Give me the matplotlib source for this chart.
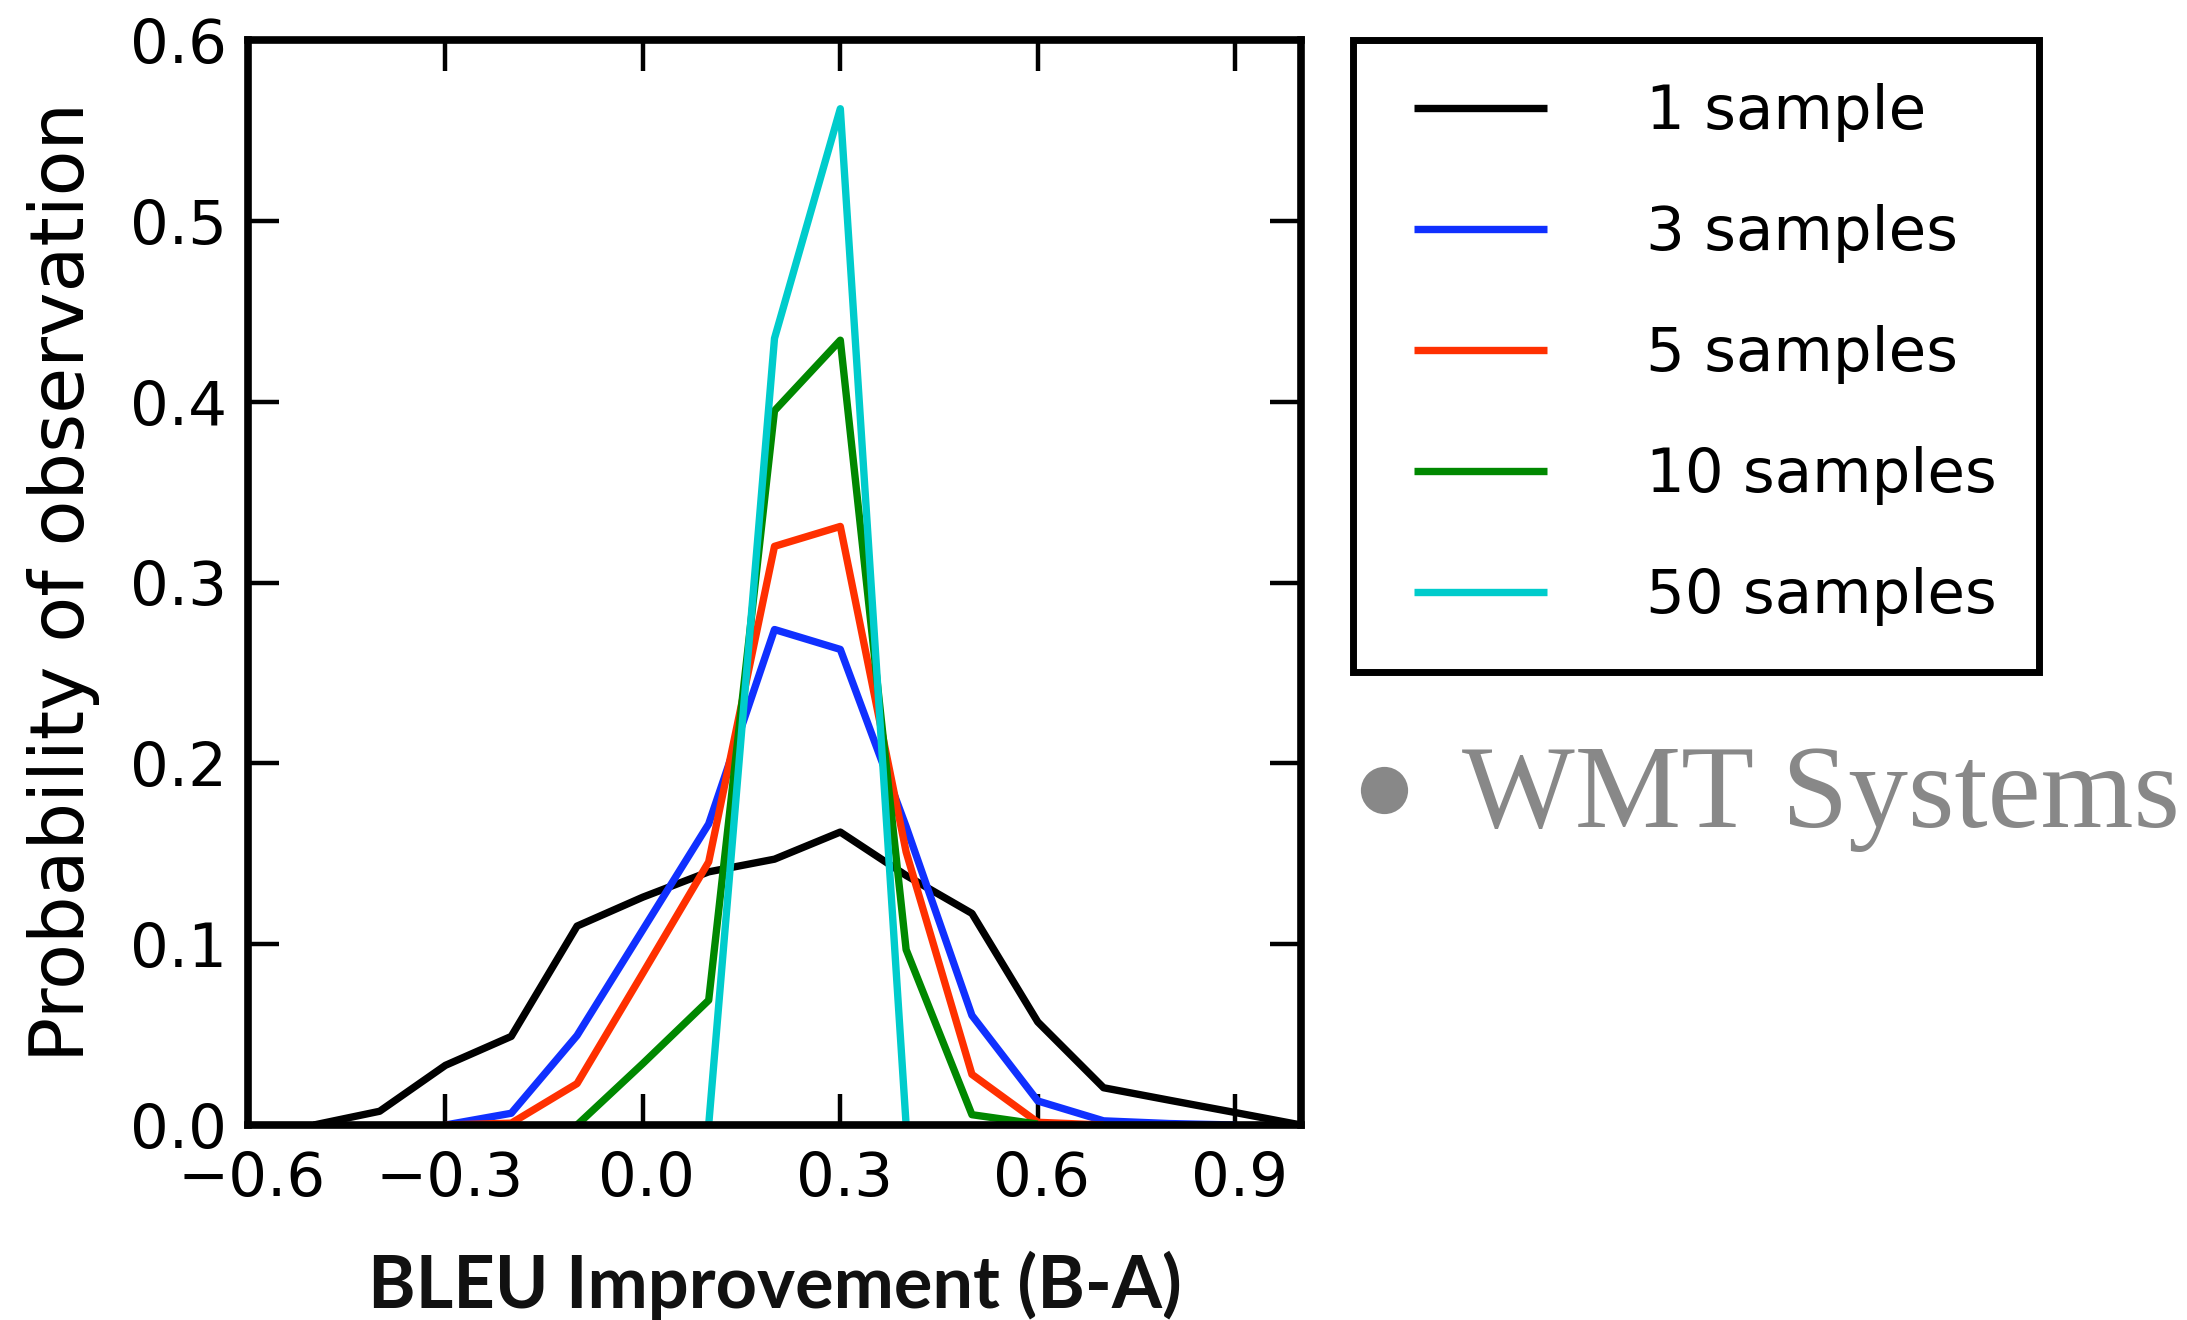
import matplotlib
matplotlib.use("Agg")
import matplotlib.pyplot as plt
from matplotlib.patches import Rectangle
from matplotlib.lines import Line2D
from matplotlib.transforms import ScaledTranslation

# ---------------- data ----------------
x_1 = [-0.5, -0.4, -0.3, -0.2, -0.1, 0.0, 0.1, 0.2, 0.3, 0.4, 0.5, 0.6, 0.7, 0.8, 0.9, 1.0]
y_1 = [0.0, 0.0076, 0.033, 0.049, 0.110, 0.126, 0.140, 0.147, 0.162, 0.138, 0.117, 0.057, 0.0206, 0.0137, 0.0069, 0.0]

x_3 = [-0.3, -0.2, -0.1, 0.0, 0.1, 0.2, 0.3, 0.4, 0.5, 0.6, 0.7, 0.8, 0.9]
y_3 = [0.0, 0.0065, 0.0495, 0.108, 0.1665, 0.274, 0.263, 0.165, 0.0606, 0.0133, 0.0023, 0.0008, 0.0]

x_5 = [-0.3, -0.2, -0.1, 0.0, 0.1, 0.2, 0.3, 0.4, 0.5, 0.6, 0.7]
y_5 = [0.0, 0.001, 0.0229, 0.084, 0.1455, 0.320, 0.331, 0.151, 0.028, 0.0015, 0.0]

x_10 = [-0.1, 0.0, 0.1, 0.2, 0.3, 0.4, 0.5, 0.6]
y_10 = [0.0, 0.034, 0.069, 0.395, 0.434, 0.097, 0.0057, 0.0005]

x_50 = [0.1, 0.2, 0.3, 0.4]
y_50 = [0.0, 0.435, 0.562, 0.0]

labels = ["1 sample", "3 samples", "5 samples", "10 samples", "50 samples"]
colors = ["#000000", "#1030ff", "#ff3000", "#008800", "#00cccc"]

xticks = [-0.6, -0.3, 0.0, 0.3, 0.6, 0.9]
xticklabels = ["\u22120.6", "\u22120.3", "0.0", "0.3", "0.6", "0.9"]
yticks = [0.0, 0.1, 0.2, 0.3, 0.4, 0.5, 0.6]
yticklabels = ["0.0", "0.1", "0.2", "0.3", "0.4", "0.5", "0.6"]

# ---------------- figure ----------------
W, H = 2187, 1320
DPI = 100
fig = plt.figure(figsize=(W / DPI, H / DPI), dpi=DPI, facecolor="white")


def fx(px):
    return px / W


def fy(py):
    return 1 - py / H


L, R, T, B = 248, 1301, 40, 1125
ax = fig.add_axes([fx(L), fy(B), fx(R) - fx(L), fy(T) - fy(B)])

series = [(x_1, y_1), (x_3, y_3), (x_5, y_5), (x_10, y_10), (x_50, y_50)]
lw = 5.3
for (xs, ys), lab, col in zip(series, labels, colors):
    ax.plot(xs, ys, color=col, lw=lw, label=lab, solid_joinstyle="round",
            solid_capstyle="butt", zorder=3)

ax.set_xlim(-0.6, 1.0)
ax.set_ylim(0.0, 0.6)
ax.set_xticks(xticks)
ax.set_xticklabels(xticklabels)
ax.set_yticks(yticks)
ax.set_yticklabels(yticklabels)

for sp in ax.spines.values():
    sp.set_linewidth(5.5)
    sp.set_color("black")
    sp.set_zorder(4)

ax.tick_params(axis="both", which="major", direction="in", length=22, width=3.2,
               top=True, right=True, labelsize=44, colors="black")
ax.tick_params(axis="x", pad=18)
ax.tick_params(axis="y", pad=15)
shift = ScaledTranslation(4 / DPI, 0, fig.dpi_scale_trans)
for t in ax.get_xticklabels():
    t.set_fontfamily("DejaVu Sans")
    t.set_transform(t.get_transform() + shift)
for t in ax.get_yticklabels():
    t.set_fontfamily("DejaVu Sans")

ax.set_ylabel("Probability of observation", fontsize=54, family="DejaVu Sans", labelpad=22)
ax.set_xlabel("BLEU Improvement (B-A)", fontsize=52,
              family=["Lato", "DejaVu Sans"], fontweight="bold",
              color="#111111", labelpad=30)

# ---------------- legend ----------------
leg = ax.legend(loc="upper left", bbox_to_anchor=(fx(1414), fy(83)),
                bbox_transform=fig.transFigure, frameon=False,
                borderpad=0, borderaxespad=0, handlelength=2.18,
                handletextpad=1.62, labelspacing=1.015,
                prop={"family": "DejaVu Sans", "size": 44})
fig.add_artist(Rectangle((fx(1353), fy(672)), fx(2039) - fx(1353), fy(40) - fy(672),
                         transform=fig.transFigure, fill=False, edgecolor="black",
                         linewidth=5, joinstyle="miter"))

# ---------------- side annotation ----------------
fig.add_artist(Line2D([fx(1384)], [fy(790)], marker="o", markersize=34,
                      color="#888888", markeredgewidth=0, transform=fig.transFigure))
fig.text(fx(1462), fy(827), "WMT Systems", fontsize=86, family="Liberation Serif",
         color="#888888", va="baseline", ha="left")

fig.savefig("out.png", dpi=DPI, facecolor="white")
